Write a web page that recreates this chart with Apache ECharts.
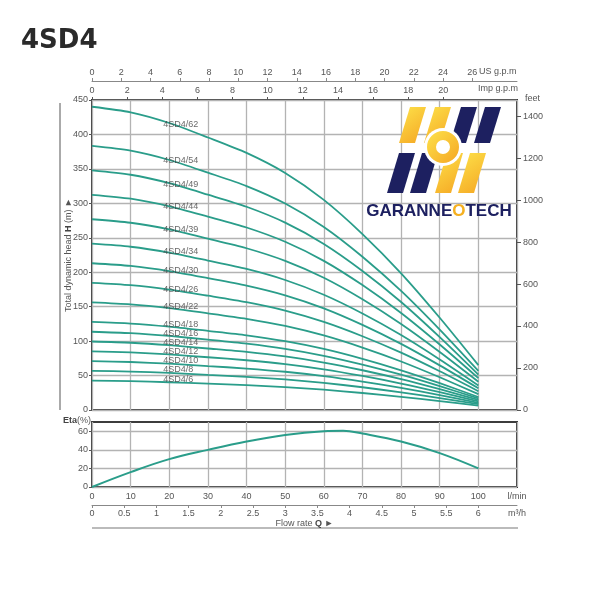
<!DOCTYPE html>
<html><head><meta charset="utf-8">
<script src="https://cdn.jsdelivr.net/npm/echarts@6/dist/echarts.min.js"></script>
<style>html,body{margin:0;padding:0;background:#fff}#c{width:600px;height:600px}</style>
</head><body><div id="c"></div>
<script>
// ---------- data ----------
const flowLpm = [0, 10, 20, 30, 40, 50, 60, 70, 80, 90, 100];
const models = ['4SD4/6','4SD4/8','4SD4/10','4SD4/12','4SD4/14','4SD4/16','4SD4/18','4SD4/22',
                '4SD4/26','4SD4/30','4SD4/34','4SD4/39','4SD4/44','4SD4/49','4SD4/54','4SD4/62'];
const head6  = [42.6, 41.8, 40.3, 38.3, 36.1, 33.3, 29.5, 24.7, 19.2, 13.0, 6.3];
const head8  = [56.8, 55.8, 53.8, 51.0, 48.2, 44.4, 39.4, 33.0, 25.6, 17.3, 8.4];
const head10 = [71.0, 69.7, 67.2, 63.8, 60.2, 55.5, 49.2, 41.2, 32.0, 21.6, 10.5];
const head12 = [85.2, 83.6, 80.6, 76.6, 72.2, 66.6, 59.0, 49.4, 38.4, 25.9, 12.6];
const head14 = [99.4, 97.6, 94.1, 89.3, 84.3, 77.7, 68.9, 57.7, 44.8, 30.2, 14.7];
const head16 = [113.6, 111.5, 107.5, 102.1, 96.3, 88.8, 78.7, 65.9, 51.2, 34.6, 16.8];
const head18 = [127.8, 125.5, 121.0, 114.8, 108.4, 99.9, 88.6, 74.2, 57.6, 38.9, 18.9];
const head22 = [156.2, 153.3, 147.8, 140.4, 132.4, 122.1, 108.2, 90.6, 70.4, 47.5, 23.1];
const head26 = [184.6, 181.2, 174.7, 165.9, 156.5, 144.3, 127.9, 107.1, 83.2, 56.2, 27.3];
const head30 = [213.0, 209.1, 201.6, 191.4, 180.6, 166.5, 147.6, 123.6, 96.0, 64.8, 31.5];
const head34 = [241.4, 237.0, 228.5, 216.9, 204.7, 188.7, 167.3, 140.1, 108.8, 73.4, 35.7];
const head39 = [276.9, 271.8, 262.1, 248.8, 234.8, 216.5, 191.9, 160.7, 124.8, 84.2, 41.0];
const head44 = [312.4, 306.7, 295.7, 280.7, 264.9, 244.2, 216.5, 181.3, 140.8, 95.0, 46.2];
const head49 = [347.9, 341.5, 329.3, 312.6, 295.0, 272.0, 241.1, 201.9, 156.8, 105.8, 51.5];
const head54 = [383.4, 376.4, 362.9, 344.5, 325.1, 299.7, 265.7, 222.5, 172.8, 116.6, 56.7];
const head62 = [440.2, 432.1, 416.6, 395.6, 373.2, 344.1, 305.0, 255.4, 198.4, 133.9, 65.1];
const headCurves = [head6, head8, head10, head12, head14, head16, head18, head22,
                    head26, head30, head34, head39, head44, head49, head54, head62];
const labelFlow = 18.3;
const labelHeads = [44.6, 58.1, 71.6, 84.6, 97.7, 110.3, 124.4, 149.9,
                    175.6, 203.2, 229.8, 262.3, 295.0, 328.0, 361.9, 414.7];
const etaFlow = [0, 10, 20, 30, 40, 50, 60, 65, 70, 80, 90, 100];
const etaValues = [0, 16, 30, 40, 49, 56, 60, 60.5, 57.5, 49, 36.5, 20];

const usGpmTicks = [0,2,4,6,8,10,12,14,16,18,20,22,24,26];
const impGpmTicks = [0,2,4,6,8,10,12,14,16,18,20];
const feetTicks = [0,200,400,600,800,1000,1200,1400];
const lpmTicks = [0,10,20,30,40,50,60,70,80,90,100];
const m3hTicks = [0,0.5,1,1.5,2,2.5,3,3.5,4,4.5,5,5.5,6];
const etaTicks = [0,20,40,60];

// ---------- style ----------
const FONT = 'Liberation Sans';
const TEAL = '#2a9d8a';
const BORDER = '#3c3c3c';
const LBL = {fontFamily: FONT, fontSize: 9, color: '#555'};
const SPLIT = {show: true, lineStyle: {color: '#b3b3b3', width: 1.3}};
const NAVY = '#1d2060';
const YEL = {type: 'linear', x: 0, y: 0, x2: 1, y2: 1,
  colorStops: [{offset: 0, color: '#fde24a'}, {offset: 1, color: '#f5a623'}]};
const NOZERO = {show: false, onZero: false};

const LPM_MAX = 110;
const US = 3.78541, IMP = 4.54609, M3H = 1000 / 60, FT = 3.28084;

function bar(bx, yb, h, s, fill) {
  return {type: 'polygon', z: 50, silent: true,
    shape: {points: [[bx, yb], [bx + 16, yb], [bx + 16 + s, yb - h], [bx + s, yb - h]]},
    style: {fill: fill}};
}

const chart = echarts.init(document.getElementById('c'), null, {renderer: 'canvas'});
const option = {
  animation: false,
  backgroundColor: '#fff',
  title: {text: '4SD4', left: 21, top: 28, padding: 0,
    textStyle: {fontFamily: 'DejaVu Sans', fontWeight: 'bold', fontSize: 26, color: '#2a2a2a'}},
  grid: [
    {left: 92, top: 100, width: 425, height: 310, show: true, borderColor: BORDER, borderWidth: 2},
    {left: 92, top: 422, width: 425, height: 65, show: true, borderColor: BORDER, borderWidth: 2}
  ],
  xAxis: [
    {gridIndex: 0, type: 'value', min: 0, max: LPM_MAX, interval: 10,
      axisLine: NOZERO, axisTick: {show: false}, axisLabel: {show: false}, splitLine: SPLIT},
    {gridIndex: 0, type: 'value', position: 'top', min: 0, max: LPM_MAX / IMP,
      axisLine: NOZERO,
      axisTick: {show: true, length: 3, customValues: impGpmTicks, lineStyle: {color: '#555'}},
      axisLabel: Object.assign({customValues: impGpmTicks, margin: 5}, LBL), splitLine: {show: false}},
    {gridIndex: 0, type: 'value', position: 'top', offset: 19, min: 0, max: LPM_MAX / US,
      axisLine: {show: true, onZero: false, lineStyle: {color: '#888', width: 1}},
      axisTick: {show: true, length: 3, customValues: usGpmTicks, lineStyle: {color: '#888'}},
      axisLabel: Object.assign({customValues: usGpmTicks, margin: 4}, LBL), splitLine: {show: false}},
    {gridIndex: 1, type: 'value', min: 0, max: LPM_MAX, interval: 10,
      axisLine: NOZERO, axisTick: {show: false},
      axisLabel: Object.assign({customValues: lpmTicks.concat([LPM_MAX]), margin: 5, showMaxLabel: true,
        formatter: v => (v > 105 ? 'l/min' : String(v))}, LBL),
      splitLine: SPLIT},
    {gridIndex: 1, type: 'value', position: 'bottom', offset: 18, min: 0, max: LPM_MAX / M3H,
      axisLine: {show: true, onZero: false, lineStyle: {color: '#888', width: 1}},
      axisTick: {show: true, length: 3, customValues: m3hTicks, lineStyle: {color: '#888'}},
      axisLabel: Object.assign({customValues: m3hTicks.concat([LPM_MAX / M3H]), margin: 4, showMaxLabel: true,
        formatter: v => (v > 6.2 ? 'm³/h' : String(v))}, LBL),
      splitLine: {show: false},
      name: '{n|Flow rate }{b|Q}{n| ►}', nameLocation: 'middle', nameGap: 14,
      nameTextStyle: {rich: {n: {fontFamily: FONT, fontSize: 9, color: '#555'},
                             b: {fontFamily: FONT, fontSize: 9, color: '#444', fontWeight: 'bold'}}}}
  ],
  yAxis: [
    {gridIndex: 0, type: 'value', min: 0, max: 450, interval: 50,
      axisLine: NOZERO,
      axisTick: {show: true, length: 3, lineStyle: {color: '#555'}},
      axisLabel: Object.assign({margin: 4}, LBL), splitLine: SPLIT,
      name: '{n|Total dynamic head }{b|H}{n| (m) ►}', nameLocation: 'middle', nameGap: 19, nameRotate: 90,
      nameMoveOverlap: false,
      nameTextStyle: {rich: {n: {fontFamily: FONT, fontSize: 9, color: '#555'},
                             b: {fontFamily: FONT, fontSize: 9, color: '#444', fontWeight: 'bold'}}}},
    {gridIndex: 0, type: 'value', position: 'right', min: 0, max: 450 * FT,
      axisLine: NOZERO,
      axisTick: {show: true, length: 4, customValues: feetTicks, lineStyle: {color: '#555'}},
      axisLabel: Object.assign({customValues: feetTicks, margin: 6, formatter: v => String(v)}, LBL),
      splitLine: {show: false}},
    {gridIndex: 1, type: 'value', min: 0, max: 70, interval: 10,
      axisLine: NOZERO,
      axisTick: {show: true, length: 3, customValues: etaTicks, lineStyle: {color: '#555'}},
      axisLabel: Object.assign({customValues: etaTicks, margin: 4}, LBL), splitLine: SPLIT}
  ],
  series: headCurves.map((h, i) => ({
    type: 'line', name: models[i], xAxisIndex: 0, yAxisIndex: 0, silent: true,
    data: flowLpm.map((q, j) => [q, h[j]]), smooth: 0.25, symbol: 'none',
    lineStyle: {color: TEAL, width: 1.8}, z: 3
  })).concat([
    {type: 'scatter', xAxisIndex: 0, yAxisIndex: 0, silent: true, symbolSize: 1,
      itemStyle: {color: 'rgba(0,0,0,0)'}, z: 4,
      data: models.map((m, i) => [labelFlow, labelHeads[i], m]),
      label: {show: true, position: 'right', distance: 0, formatter: p => p.value[2],
        fontFamily: FONT, fontSize: 9, color: '#444'}},
    {type: 'line', name: 'Eta', xAxisIndex: 3, yAxisIndex: 2, silent: true,
      data: etaFlow.map((q, j) => [q, etaValues[j]]), smooth: 0.4, symbol: 'none',
      lineStyle: {color: TEAL, width: 2}}
  ]),
  graphic: [
    {type: 'line', silent: true, shape: {x1: 60, y1: 103, x2: 60, y2: 410}, style: {stroke: '#aaa', lineWidth: 2}},
    {type: 'line', silent: true, shape: {x1: 92, y1: 528, x2: 518, y2: 528}, style: {stroke: '#bbb', lineWidth: 2}},
    {type: 'text', silent: true, x: 479, y: 72, style: {text: 'US g.p.m', fontFamily: FONT, fontSize: 9, fill: '#555', verticalAlign: 'middle', align: 'left'}},
    {type: 'text', silent: true, x: 478, y: 89, style: {text: 'Imp g.p.m', fontFamily: FONT, fontSize: 9, fill: '#555', verticalAlign: 'middle', align: 'left'}},
    {type: 'text', silent: true, x: 525, y: 99, style: {text: 'feet', fontFamily: FONT, fontSize: 9, fill: '#555', verticalAlign: 'middle', align: 'left'}},
    {type: 'text', silent: true, x: 91, y: 421, style: {text: '{b|Eta}{n|(%)}', verticalAlign: 'middle', align: 'right',
      rich: {b: {fontFamily: FONT, fontSize: 9, fontWeight: 'bold', fill: '#444', color: '#444'},
             n: {fontFamily: FONT, fontSize: 9, fill: '#555', color: '#555'}}}},
    // logo
    bar(399, 143, 36, 11, YEL), bar(424, 143, 36, 11, YEL), bar(450, 143, 36, 11, NAVY), bar(474, 143, 36, 11, NAVY),
    bar(387, 193, 40, 12, NAVY), bar(410, 193, 40, 12, NAVY), bar(435, 193, 40, 12, YEL), bar(458, 193, 40, 12, YEL),
    {type: 'circle', z: 51, silent: true, shape: {cx: 443, cy: 147, r: 19}, style: {fill: '#fff'}},
    {type: 'ring', z: 52, silent: true, shape: {cx: 443, cy: 147, r: 16, r0: 7}, style: {fill: YEL}},
    {type: 'text', z: 52, silent: true, x: 439, y: 211, style: {text: '{a|GARANNE}{o|O}{a|TECH}', align: 'center', verticalAlign: 'middle',
      rich: {a: {fontFamily: FONT, fontSize: 17, fontWeight: 'bold', fill: NAVY, color: NAVY},
             o: {fontFamily: FONT, fontSize: 17, fontWeight: 'bold', fill: '#f5b020', color: '#f5b020'}}}}
  ]
};
chart.setOption(option);
</script></body></html>
